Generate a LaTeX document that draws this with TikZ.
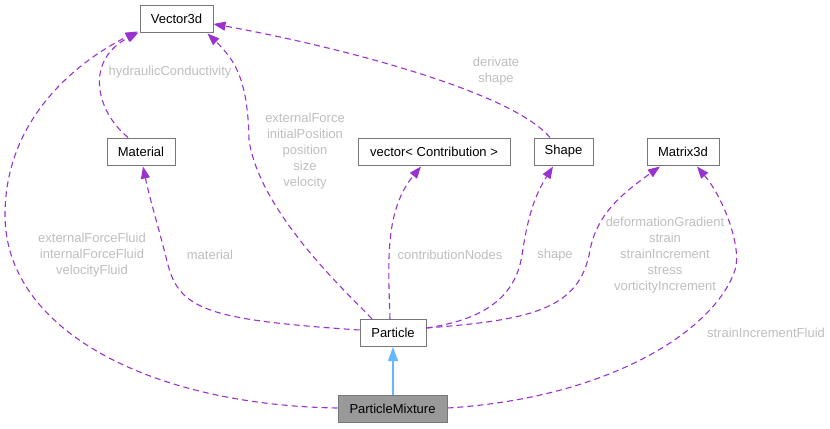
\documentclass[tikz,border=0pt]{standalone}
\usepackage{fontspec}
\setmainfont{Liberation Sans}
\usetikzlibrary{arrows.meta,calc}
\definecolor{edgep}{HTML}{9A32CD}
\definecolor{lbl}{HTML}{BEBEBE}
\definecolor{bord}{HTML}{777777}
\definecolor{inh}{HTML}{63B8FF}
\definecolor{pmfill}{HTML}{999999}
\begin{document}
\begin{tikzpicture}[x=1bp,y=-1bp,
  box/.style={draw=bord,line width=1bp,fill=white,inner sep=0pt,minimum height=27bp,font=\fontsize{13bp}{16bp}\selectfont},
  rel/.style={draw=edgep,line width=1.1bp,dash pattern=on 6bp off 4bp,-{Triangle[length=12bp,width=9bp]}},
  inhe/.style={draw=inh,line width=1.1bp,-{Triangle[length=14bp,width=10bp]}},
  lab/.style={text=lbl,align=center,font=\fontsize{13bp}{16bp}\selectfont,inner sep=0pt}]
\useasboundingbox (0,0) rectangle (830,428);

% nodes
\node[box,minimum width=73bp] (v3) at (176.5,18.5) {Vector3d};
\node[box,minimum width=68bp] (mat) at (141,151.5) {Material};
\node[box,minimum width=152bp] (vc) at (434,151.5) {vector< Contribution >};
\node[box,minimum width=59bp] (sh) at (563.5,151.5) {Shape};
\node[box,minimum width=72bp] (mx) at (683,151.5) {Matrix3d};
\node[box,minimum width=66bp] (pa) at (393,333) {Particle};
\node[box,minimum width=109bp,fill=pmfill] (pm) at (392.5,409) {ParticleMixture};

% edges
\draw[rel] ([yshift=1bp]pm.west) .. controls (150,405) and (5,330) .. (5,215)
  .. controls (5,110) and (90,55) .. ([xshift=-2bp,yshift=1bp]v3.south west);
\draw[rel] ([xshift=-13bp]mat.north) .. controls (95,110) and (85,60) .. ([xshift=-1bp]v3.south west);
\draw[rel] ([xshift=-21bp]pa.north) .. controls (355,300) and (260,215) .. (249,140)
  .. controls (248,80) and (235,60) .. ([xshift=-6bp,yshift=-1bp]v3.south east);
\draw[rel] ([xshift=-13.5bp]sh.north) .. controls (510,90) and (330,45) .. ([yshift=-5.5bp]v3.east);
\draw[rel] ([yshift=3bp]pa.west) .. controls (210,320) and (180,310) .. (168,265)
  .. controls (158,225) and (150,200) .. ([xshift=2bp,yshift=-1bp]mat.south);
\draw[rel] ([xshift=-3bp]pa.north) .. controls (388,260) and (385,210) .. ([xshift=-13bp,yshift=-1bp]vc.south);
\draw[rel] ([yshift=5bp]pa.east) .. controls (480,320) and (515,300) .. (522,255)
  .. controls (528,215) and (535,195) .. ([xshift=-10.5bp,yshift=-1bp]sh.south);
\draw[rel] ([yshift=5bp]pa.east) .. controls (530,320) and (580,310) .. (590,250)
  .. controls (597,215) and (620,195) .. ([xshift=-23bp,yshift=-1bp]mx.south);
\draw[rel] ([yshift=1bp]pm.east) .. controls (610,398) and (715,330) .. (735,270)
  .. controls (742,249) and (725,200) .. ([xshift=14bp,yshift=-1bp]mx.south);
\draw[inhe] (pa.south |- pm.north) -- (pa.south);

% labels
\node[lab] (l1) at (92,255) {externalForceFluid\\internalForceFluid\\velocityFluid};
\node[lab] (l2) at (170,72) {hydraulicConductivity};
\node[lab] (l3) at (305,151) {externalForce\\initialPosition\\position\\size\\velocity};
\node[lab] (l4) at (496,71) {derivate\\shape};
\node[lab] (l5) at (210,255) {material};
\node[lab] (l6) at (450,255) {contributionNodes};
\node[lab] (l7) at (555,255) {shape};
\node[lab] (l8) at (665,255) {deformationGradient\\strain\\strainIncrement\\stress\\vorticityIncrement};
\node[lab] (l9) at (766,333) {strainIncrementFluid};
\end{tikzpicture}
\end{document}
